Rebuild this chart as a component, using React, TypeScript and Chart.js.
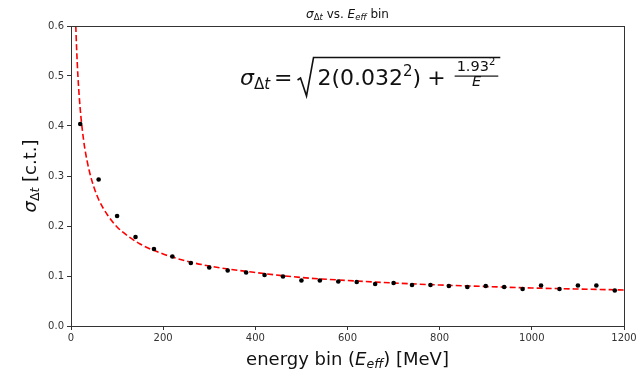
import React, { useEffect, useRef } from "react";
import { Chart, registerables } from "chart.js";

Chart.register(...registerables);

// Measured points: energy bin centre (MeV) and sigma_dt (c.t.)
const binEnergies = [20, 60, 100, 140, 180, 220, 260, 300, 340, 380, 420, 460, 500, 540, 580, 620, 660, 700, 740, 780, 820, 860, 900, 940, 980, 1020, 1060, 1100, 1140, 1180];
const sigmaValues = [0.404, 0.293, 0.220, 0.178, 0.154, 0.139, 0.126, 0.117, 0.111, 0.107, 0.102, 0.099, 0.091, 0.091, 0.089, 0.088, 0.084, 0.086, 0.082, 0.082, 0.080, 0.078, 0.080, 0.078, 0.074, 0.081, 0.074, 0.081, 0.081, 0.071];

// Fit curve
const fitEnergies = [10.4, 12, 15, 20, 25, 30, 40, 50, 60, 80, 100, 125, 150, 200, 250, 300, 400, 500, 600, 700, 800, 900, 1000, 1100, 1200];
const fitValues = [0.600, 0.559, 0.500, 0.434, 0.389, 0.355, 0.309, 0.277, 0.253, 0.221, 0.198, 0.179, 0.164, 0.144, 0.130, 0.120, 0.107, 0.097, 0.091, 0.086, 0.082, 0.079, 0.076, 0.074, 0.072];

const xTicks = [0, 200, 400, 600, 800, 1000, 1200];
const yTicks = [0.0, 0.1, 0.2, 0.3, 0.4, 0.5, 0.6];

const FONT = "'DejaVu Sans', sans-serif";

const textPlugin = {
  id: "textPlugin",
  afterDraw(chart: any) {
    const ctx = chart.ctx as CanvasRenderingContext2D;
    const a = chart.chartArea;
    ctx.save();
    // frame
    ctx.strokeStyle = "#333";
    ctx.lineWidth = 1;
    ctx.strokeRect(Math.round(a.left) + 0.5, Math.round(a.top) + 0.5, Math.round(a.right - a.left), Math.round(a.bottom - a.top));
    ctx.fillStyle = "#111";
    ctx.textBaseline = "alphabetic";

    const put = (t: string, font: string, x: number, y: number) => {
      ctx.font = font;
      ctx.fillText(t, x, y);
      return ctx.measureText(t).width;
    };

    // Title: sigma_Δt vs. E_eff bin
    {
      const cx = (a.left + a.right) / 2;
      const by = 18;
      const parts: [string, string, number][] = [
        ["σ", `italic 12px ${FONT}`, 0],
        ["Δ", `8.5px ${FONT}`, 2],
        ["t", `italic 8.5px ${FONT}`, 2],
        [" vs. ", `12px ${FONT}`, 0],
        ["E", `italic 12px ${FONT}`, 0],
        ["eff", `italic 8.5px ${FONT}`, 2],
        [" bin", `12px ${FONT}`, 0],
      ];
      let w = 0;
      for (const p of parts) { ctx.font = p[1]; w += ctx.measureText(p[0]).width; }
      let x = cx - w / 2;
      for (const p of parts) x += put(p[0], p[1], x, by + p[2]);
    }

    // Formula
    {
      const base = 84.5;
      let x = 240;
      x += put("σ", `italic 22px ${FONT}`, x, base);
      x += put("Δ", `15px ${FONT}`, x, base + 4);
      x += put("t", `italic 15px ${FONT}`, x, base + 4);
      x += 4;
      x += put("=", `22px ${FONT}`, x, base);
      x += 5;
      // radical
      const rx = x;
      const barY = 57.5;
      const textStart = rx + 20;
      let tx = textStart;
      tx += put("2(0.032", `22px ${FONT}`, tx, base);
      tx += put("2", `15px ${FONT}`, tx, base - 9);
      tx += put(")", `22px ${FONT}`, tx, base);
      tx += 6;
      tx += put("+", `22px ${FONT}`, tx, base);
      tx += 9;
      // fraction
      ctx.font = `14.5px ${FONT}`;
      const nw = ctx.measureText("1.93").width;
      ctx.font = `10px ${FONT}`;
      const sw = ctx.measureText("2").width;
      const fw = nw + sw + 5;
      put("1.93", `14.5px ${FONT}`, tx + 2, 70.5);
      put("2", `10px ${FONT}`, tx + 2 + nw, 64.5);
      ctx.font = `italic 14.5px ${FONT}`;
      const ew = ctx.measureText("E").width;
      put("E", `italic 14.5px ${FONT}`, tx + (fw - ew) / 2, 86);
      ctx.fillRect(tx, 75.5, fw, 1.2);
      tx += fw + 2;
      ctx.strokeStyle = "#111";
      ctx.lineWidth = 1.6;
      ctx.lineJoin = "miter";
      ctx.beginPath();
      ctx.moveTo(rx, 80);
      ctx.lineTo(rx + 3, 78);
      ctx.lineTo(rx + 9, 96);
      ctx.lineTo(rx + 16, barY);
      ctx.lineTo(tx, barY);
      ctx.stroke();
    }

    // X label
    {
      const by = 365;
      const parts: [string, string, number][] = [
        ["energy bin (", `18px ${FONT}`, 0],
        ["E", `italic 18px ${FONT}`, 0],
        ["eff", `italic 12.5px ${FONT}`, 3],
        [") [MeV]", `18px ${FONT}`, 0],
      ];
      let w = 0;
      for (const p of parts) { ctx.font = p[1]; w += ctx.measureText(p[0]).width; }
      let x = (a.left + a.right) / 2 - w / 2;
      for (const p of parts) x += put(p[0], p[1], x, by + p[2]);
    }

    // Y label (rotated)
    {
      ctx.save();
      ctx.translate(36, (a.top + a.bottom) / 2);
      ctx.rotate(-Math.PI / 2);
      const parts: [string, string, number][] = [
        ["σ", `italic 18px ${FONT}`, 0],
        ["Δ", `12.5px ${FONT}`, 3],
        ["t", `italic 12.5px ${FONT}`, 3],
        [" [c.t.]", `18px ${FONT}`, 0],
      ];
      let w = 0;
      for (const p of parts) { ctx.font = p[1]; w += ctx.measureText(p[0]).width; }
      let x = -w / 2;
      for (const p of parts) x += put(p[0], p[1], x, p[2]);
      ctx.restore();
    }
    ctx.restore();
  },
};

export default function App() {
  const ref = useRef<HTMLCanvasElement | null>(null);
  useEffect(() => {
    document.body.style.margin = "0";
    const canvas = ref.current!;
    const chart = new Chart(canvas, {
      type: "scatter",
      data: {
        datasets: [
          {
            label: "fit",
            data: fitEnergies.map((e, i) => ({ x: e, y: fitValues[i] })),
            showLine: true,
            borderColor: "#ff0000",
            borderWidth: 1.6,
            borderDash: [6, 3],
            pointRadius: 0,
            cubicInterpolationMode: "monotone",
            order: 2,
          } as any,
          {
            label: "data",
            data: binEnergies.map((e, i) => ({ x: e, y: sigmaValues[i] })),
            backgroundColor: "#000",
            borderColor: "#000",
            pointRadius: 2.3,
            borderWidth: 0,
            order: 1,
          },
        ],
      },
      options: {
        animation: false,
        responsive: false,
        devicePixelRatio: 1,
        layout: { padding: { top: 26, right: 16, left: 0, bottom: 0 } },
        plugins: { legend: { display: false }, tooltip: { enabled: false }, title: { display: false } },
        scales: {
          x: {
            type: "linear",
            min: 0,
            max: 1200,
            afterFit: (s: any) => { s.height = 47; },
            afterBuildTicks: (s: any) => { s.ticks = xTicks.map((v) => ({ value: v })); },
            ticks: { color: "#333", font: { family: FONT, size: 10 }, padding: 2, maxRotation: 0, callback: (v: any) => String(v) },
            grid: { display: true, drawOnChartArea: false, drawTicks: true, tickLength: 4, color: "#333" },
            border: { display: false },
          },
          y: {
            type: "linear",
            min: 0,
            max: 0.6,
            afterFit: (s: any) => { s.width = 71; },
            afterBuildTicks: (s: any) => { s.ticks = yTicks.map((v) => ({ value: v })); },
            ticks: { color: "#333", font: { family: FONT, size: 10 }, padding: 3, callback: (v: any) => Number(v).toFixed(1) },
            grid: { display: true, drawOnChartArea: false, drawTicks: true, tickLength: 4, color: "#333" },
            border: { display: false },
          },
        },
      },
      plugins: [textPlugin],
    });
    return () => chart.destroy();
  }, []);
  return (
    <div style={{ width: 640, height: 373, background: "#fff" }}>
      <canvas ref={ref} width={640} height={373} style={{ display: "block", width: 640, height: 373 }} />
    </div>
  );
}
